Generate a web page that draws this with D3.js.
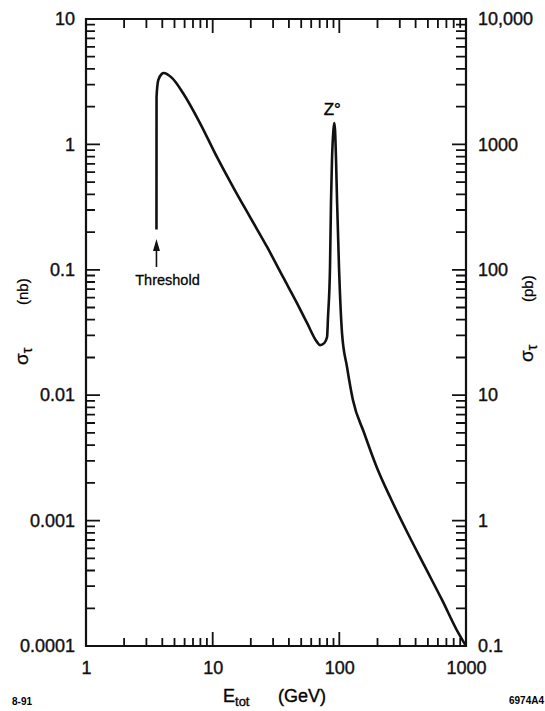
<!DOCTYPE html>
<html>
<head>
  <meta charset="utf-8">
  <title>tau pair cross section</title>
  <script src="https://cdn.jsdelivr.net/npm/d3@7"></script>
</head>
<style>
  html,
  body {
    margin: 0;
    padding: 0;
    background: white;
  }

  svg {
    font-family: "Liberation Sans", Arial, Helvetica, sans-serif;
  }
</style>
<body>
  <div id="chart"></div>
</body>
<script>
  // energy (GeV) and cross section (nb)
  const energy = [3.60, 3.605, 3.72, 3.96, 4.1, 4.77, 5.83, 7.94, 10.8, 14.5, 19.7, 26.9, 35.9, 46.3, 55.6,
    66.6, 70.4, 76, 80, 81.4, 84.4, 86.0, 87.5, 89.8, 91.2, 92.5, 94.2, 95.9, 99.4, 105, 115, 128, 157, 197,
    258, 346, 475, 647, 870, 1000]
  const sigma = [0.21, 2.39, 3.26, 3.64, 3.71, 3.39, 2.57, 1.48, 0.794, 0.457, 0.264, 0.152, 0.0877, 0.0543, 0.0377,
    0.0266, 0.0251, 0.026, 0.0291, 0.042, 0.105, 0.36, 0.75, 1.3, 1.48, 1.3, 0.75, 0.36, 0.105, 0.0313, 0.0168,
    0.00916, 0.0050, 0.00268, 0.00146, 0.000796, 0.000427, 0.000233, 0.000127, 0.0001]

  const xTicks = [1, 10, 100, 1000]
  const xTickLabels = ['1', '10', '100', '1000']
  const yTicks = [0.0001, 0.001, 0.01, 0.1, 1, 10]
  const yTickLabels = ['0.0001', '0.001', '0.01', '0.1', '1', '10']
  const yRightTicks = [0.1, 1, 10, 100, 1000, 10000]
  const yRightLabels = ['0.1', '1', '10', '100', '1000', '10,000']

  const threshold = 3.6
  const zPeak = 91.2

  const W = 545, H = 711
  const pLeft = 86, pRight = 466, pTop = 19, pBottom = 646

  const svg = d3.select('#chart')
    .append('svg')
    .attr('width', W)
    .attr('height', H)

  const x = d3.scaleLog().domain([1, 1000]).range([pLeft, pRight])
  const y = d3.scaleLog().domain([0.0001, 10]).range([pBottom, pTop])
  const yR = d3.scaleLog().domain([0.1, 10000]).range([pBottom, pTop])

  // minor ticks 2..9 in each decade
  const minorOf = function (majors) {
    const out = []
    majors.slice(0, -1).forEach(d => {
      for (let k = 2; k <= 9; k++) out.push(d * k)
    })
    return out
  }
  const xMinor = minorOf(xTicks)
  const yMinor = minorOf(yTicks)

  // frame
  svg.append('path')
    .attr('d', `M${pLeft},${pTop}H${pRight}V${pBottom}H${pLeft}Z`)
    .attr('fill', 'none').attr('stroke', '#111').attr('stroke-width', 2.2)

  // labels from the d3 axes, tick marks drawn below
  const labelStyle = function (g) {
    g.select('.domain').remove()
    g.selectAll('line').remove()
    g.selectAll('text').attr('font-size', 18).attr('font-family', null)
      .attr('fill', '#111').attr('stroke', '#111').attr('stroke-width', 0.4)
  }

  svg.append('g').attr('transform', `translate(${pLeft},0)`)
    .call(d3.axisLeft(y).tickValues(yTicks).tickFormat((d, i) => yTickLabels[i]).tickSize(0).tickPadding(11))
    .call(labelStyle)
  svg.append('g').attr('transform', `translate(${pRight},0)`)
    .call(d3.axisRight(yR).tickValues(yRightTicks).tickFormat((d, i) => yRightLabels[i]).tickSize(0).tickPadding(12))
    .call(labelStyle)
  svg.append('g').attr('transform', `translate(0,${pBottom})`)
    .call(d3.axisBottom(x).tickValues(xTicks).tickFormat((d, i) => xTickLabels[i]).tickSize(0).tickPadding(15))
    .call(labelStyle)

  // inward tick marks on all four sides, one path per set
  const vTicks = function (vals, len, x0, dir) {
    svg.append('path')
      .attr('d', vals.map(d => `M${x0},${y(d).toFixed(1)}h${dir * len}`).join(''))
      .attr('fill', 'none').attr('stroke', '#111').attr('stroke-width', 1.8)
  }
  const hTicks = function (vals, len, y0, dir) {
    svg.append('path')
      .attr('d', vals.map(d => `M${x(d).toFixed(1)},${y0}v${dir * len}`).join(''))
      .attr('fill', 'none').attr('stroke', '#111').attr('stroke-width', 1.8)
  }
  vTicks(yTicks, 14, pLeft, 1)
  vTicks(yMinor, 9, pLeft, 1)
  vTicks(yTicks, 14, pRight, -1)
  vTicks(yMinor, 10, pRight, -1)
  hTicks(xTicks, 14, pBottom, -1)
  hTicks(xMinor, 8, pBottom, -1)
  hTicks(xTicks, 14, pTop, 1)
  hTicks(xMinor, 9, pTop, 1)

  // curve
  const line = d3.line()
    .x((d, i) => x(energy[i]))
    .y((d, i) => y(sigma[i]))
    .curve(d3.curveMonotoneX)

  svg.append('path')
    .datum(energy)
    .attr('d', line)
    .attr('fill', 'none')
    .attr('stroke', '#111')
    .attr('stroke-width', 2.6)
    .attr('stroke-linejoin', 'round')

  // threshold arrow
  const ax = x(threshold)
  svg.append('line')
    .attr('x1', ax).attr('x2', ax)
    .attr('y1', 267).attr('y2', 248)
    .attr('stroke', '#111').attr('stroke-width', 1.6)
  svg.append('path')
    .attr('d', `M${ax},239 L${ax - 3.5},251 L${ax + 3.5},251 Z`)
    .attr('fill', '#111')
  svg.append('text')
    .attr('x', ax + 11).attr('y', 285)
    .attr('text-anchor', 'middle')
    .attr('font-size', 14.5)
    .attr('stroke', '#111').attr('stroke-width', 0.3)
    .text('Threshold')

  // Z peak label
  svg.append('text')
    .attr('x', x(zPeak) - 2).attr('y', 115)
    .attr('text-anchor', 'middle')
    .attr('font-size', 17)
    .attr('stroke', '#111').attr('stroke-width', 0.4)
    .text('Z°')

  // x label
  const xl = svg.append('text')
    .attr('x', 223).attr('y', 702)
    .attr('font-size', 18)
    .attr('stroke', '#111').attr('stroke-width', 0.4)
  xl.append('tspan').text('E')
  xl.append('tspan').attr('font-size', 13).attr('dy', 4).text('tot')
  xl.append('tspan').attr('x', 278).attr('dy', -4).text('(GeV)')

  // y labels
  const yLabel = function (cx, cy, unit) {
    const t = svg.append('text')
      .attr('transform', `translate(${cx},${cy}) rotate(-90)`)
      .attr('font-size', 19)
      .attr('stroke', '#111').attr('stroke-width', 0.3)
    t.append('tspan').attr('x', 0).text('σ')
    t.append('tspan').attr('font-size', 14).attr('dy', 4).text('τ')
    t.append('tspan').attr('x', 60).attr('dy', -4).attr('font-size', 15).text(unit)
  }
  yLabel(28, 365, '(nb)')
  yLabel(533, 362, '(pb)')

  // figure codes
  svg.append('text')
    .attr('x', 12).attr('y', 705)
    .attr('font-size', 10).attr('font-weight', 'bold')
    .text('8-91')
  svg.append('text')
    .attr('x', 544).attr('y', 704)
    .attr('text-anchor', 'end')
    .attr('font-size', 10).attr('font-weight', 'bold')
    .text('6974A4')
</script>
</html>
